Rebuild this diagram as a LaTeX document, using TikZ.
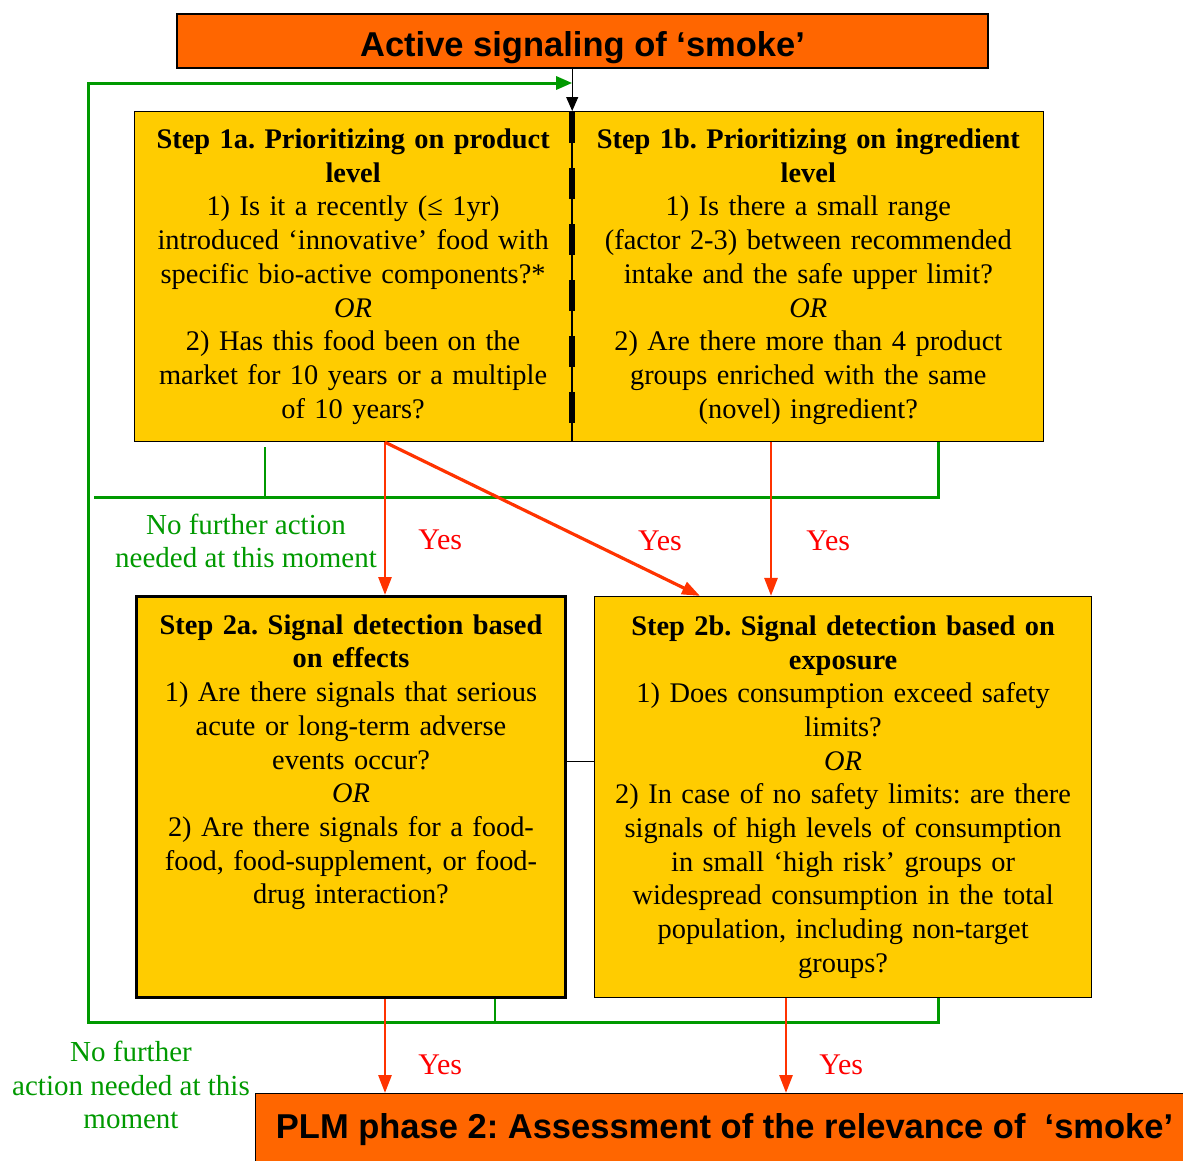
\documentclass[tikz,border=0pt]{standalone}
\usepackage{fontspec}
\setmainfont{Liberation Serif}
\newfontfamily\headfont{Liberation Sans}
\usetikzlibrary{positioning, arrows.meta}
\definecolor{smokeorange}{HTML}{FF6600}
\definecolor{stepyellow}{HTML}{FFCC00}
\definecolor{nogreen}{HTML}{009900}
\definecolor{yesred}{HTML}{FF3300}
\frenchspacing

\begin{document}
\begin{tikzpicture}[
    x=1pt, y=-1pt,
    every node/.style={inner sep=0pt},
    phase/.style={rectangle, draw, fill=smokeorange, line width=1.2pt, font=\headfont\bfseries\fontsize{34.5}{40}\selectfont},
    stepbox/.style={rectangle, draw, fill=stepyellow, line width=1.2pt, align=center, font=\fontsize{28.4}{33.7}\selectfont},
    yes/.style={-{Triangle[width=13pt,length=18pt]}, draw=yesred, line width=2.8pt},
    yeslabel/.style={text=red, font=\fontsize{30}{34}\selectfont},
    nogo/.style={draw=nogreen, line width=3pt},
    nolabel/.style={text=nogreen, align=center, font=\fontsize{29}{33.5}\selectfont}
  ]
    \useasboundingbox (0,0) rectangle (1183,1160);

    \node[phase, minimum width=811pt, minimum height=54pt] (title) at (582.5,41) {\raisebox{-15pt}[0pt][0pt]{Active signaling of ‘smoke’}};

    \node[stepbox, anchor=north west, minimum width=437pt, minimum height=330pt, text width=430pt] (s1a) at (134,111)
      {\textbf{Step 1a. Prioritizing on product}\\ \textbf{level}\\
       1) Is it a recently (≤ 1yr)\\ introduced ‘innovative’ food with\\ specific bio-active components?*\\
       \textit{OR}\\ 2) Has this food been on the\\ market for 10 years or a multiple\\ of 10 years?};
    \node[stepbox, right=0pt of s1a, minimum width=471pt, minimum height=330pt, text width=464pt] (s1b)
      {\textbf{Step 1b. Prioritizing on ingredient}\\ \textbf{level}\\
       1) Is there a small range\\ (factor 2-3) between recommended\\ intake and the safe upper limit?\\
       \textit{OR}\\ 2) Are there more than 4 product\\ groups enriched with the same\\ (novel) ingredient?};

    \node[stepbox, anchor=north west, line width=3pt, minimum width=429pt, minimum height=401pt, text width=422pt] (s2a) at (135,595)
      {\textbf{Step 2a. Signal detection based}\\ \textbf{on effects}\\
       1) Are there signals that serious\\ acute or long-term adverse\\ events occur?\\
       \textit{OR}\\ 2) Are there signals for a food-\\ food, food-supplement, or food-\\ drug interaction?\\[42pt]~};
    \node[stepbox, right=27pt of s2a, minimum width=497pt, minimum height=401pt, text width=490pt] (s2b)
      {\textbf{Step 2b. Signal detection based on}\\ \textbf{exposure}\\
       1) Does consumption exceed safety\\ limits?\\ \textit{OR}\\
       2) In case of no safety limits: are there\\ signals of high levels of consumption\\
       in small ‘high risk’ groups or\\ widespread consumption in the total\\
       population, including non-target\\ groups?};

    \node[phase, anchor=north west, minimum width=938pt, minimum height=80pt] (plm) at (255,1093)
      {\raisebox{-5pt}[0pt][0pt]{PLM phase 2: Assessment of the relevance of~ ‘smoke’}};

    % start and divider
    \draw[-{Triangle[width=12pt,length=14pt]}, line width=1pt] (title.south -| s1a.north east) -- (s1a.north east);
    \draw[line width=6pt, dash pattern=on 31pt off 25pt] ([yshift=-1pt]s1a.north east) -- (s1a.south east);
    \draw[line width=1pt] (s2a.east |- 0,761) -- (s2b.west |- 0,761);

    % no further action
    \coordinate (busL) at (94,497);
    \coordinate (busR) at (938,497);
    \coordinate (loopL) at (88,1022);
    \coordinate (loopR) at (938,1022);
    \draw[nogo, line width=2.5pt] (s1a.south -| 265,0) ++(0,5) -- (busL -| 265,0);
    \draw[nogo] (busL) -- (busR) -- (s1b.south -| busR);
    \draw[nogo, line width=2.5pt] (s2a.south -| 495,0) -- (loopL -| 495,0);
    \draw[nogo, -{Triangle[width=13pt,length=16pt]}] (s2b.south -| loopR) -- (loopR) -- (loopL) |- (s1a.north east |- 0,83);
    \node[nolabel] (nomore1) at (246,541) {No further action\\needed at this moment};
    \node[nolabel] (nomore2) at (131,1085) {No further\\action needed at this\\moment};

    % yes
    \draw[yes] (s1a.south -| 385,0) -- node[yeslabel, pos=0.64, right=32pt] {Yes} (s2a.north -| 385,0);
    \draw[yes, line width=3.2pt] (s1a.south -| 385,0) -- node[yeslabel, pos=0.64, right=50pt] {Yes} (s2b.north -| 700,0);
    \draw[yes] (s1b.south -| 771,0) -- node[yeslabel, pos=0.64, right=34pt] {Yes} (s2b.north -| 771,0);
    \draw[yes] (s2a.south -| 385,0) -- node[yeslabel, pos=0.7, right=32pt] {Yes} (plm.north -| 385,0);
    \draw[yes] (s2b.south -| 786,0) -- node[yeslabel, pos=0.7, right=32pt] {Yes} (plm.north -| 786,0);
  \end{tikzpicture}
\end{document}
